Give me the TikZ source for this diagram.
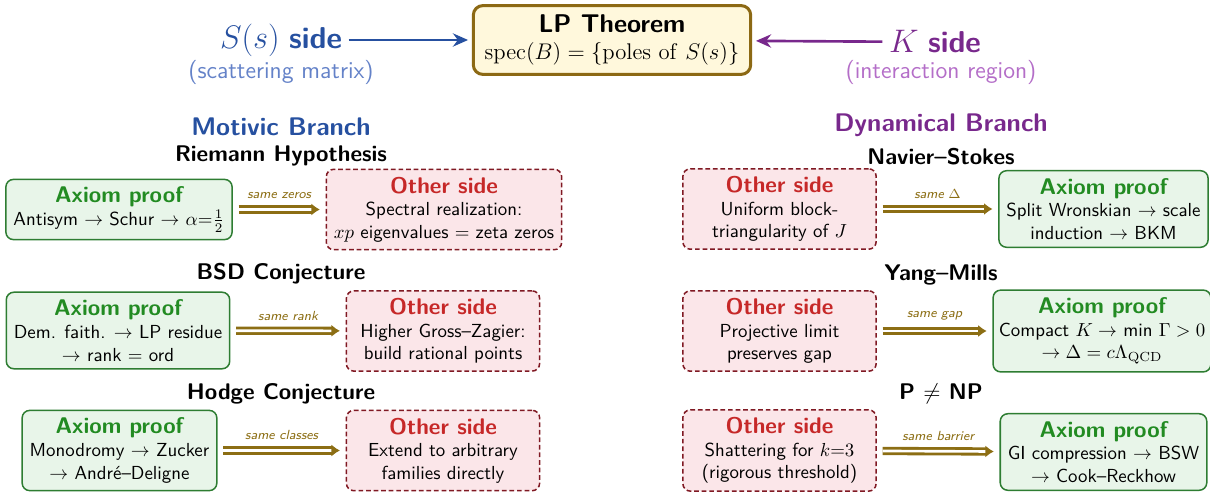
\documentclass[tikz,border=0pt]{standalone}
\usepackage{amsmath}
\usetikzlibrary{positioning,arrows.meta}
\renewcommand{\familydefault}{\sfdefault}

\definecolor{axiomgreen}{RGB}{34,139,34}
\definecolor{axiomline}{RGB}{46,125,50}
\definecolor{axiomfill}{RGB}{232,245,233}
\definecolor{otherred}{RGB}{198,40,40}
\definecolor{otherline}{RGB}{128,25,35}
\definecolor{otherfill}{RGB}{251,230,233}
\definecolor{lpline}{RGB}{140,105,20}
\definecolor{lpfill}{RGB}{255,248,220}
\definecolor{goldarrow}{RGB}{140,110,20}
\definecolor{motivicblue}{RGB}{38,80,160}
\definecolor{motiviclight}{RGB}{100,130,200}
\definecolor{dynpurple}{RGB}{120,40,140}
\definecolor{dynlight}{RGB}{180,110,200}

\newcommand{\axiomhead}{{\large\bfseries\color{axiomgreen}Axiom proof}}
\newcommand{\otherhead}{{\large\bfseries\color{otherred}Other side}}

\begin{document}
\begin{tikzpicture}[x=0.53pt,y=-0.53pt,
    axiombox/.style={draw=axiomline,fill=axiomfill,thick,rounded corners=4pt,align=center,minimum width=3.6cm,inner sep=4pt},
    otherbox/.style={draw=otherline,fill=otherfill,thick,dash pattern=on 2.5pt off 1.5pt,rounded corners=4pt,align=center,minimum width=3.6cm,inner sep=4pt},
    sameas/.style={draw=goldarrow,double=white,double distance=1.4pt,line width=1.5pt,-{Latex[length=4.5pt,width=6.5pt]},shorten <=3pt,shorten >=3pt},
    samelabel/.style={above=1.5pt,font=\scriptsize\itshape,text=goldarrow},
    problem/.style={font=\large\bfseries},
    branch/.style={font=\fontsize{13.5}{16}\selectfont\bfseries}]
    \useasboundingbox (0,0) rectangle (1210,494);

    % LP theorem and its two sides
    \node[draw=lpline,fill=lpfill,ultra thick,rounded corners=5pt,align=center,inner xsep=6pt,inner ysep=5pt] (lp) at (612,40)
        {{\fontsize{13.6}{16}\selectfont\bfseries LP Theorem}\\[2pt] \large $\operatorname{spec}(B)=\{\mathrm{poles\ of}\ S(s)\}$};
    \node[font=\fontsize{16}{19}\selectfont,text=motivicblue] (sside) at (281,40) {$S(s)$ \textbf{side}};
    \node[font=\fontsize{12.8}{15}\selectfont,text=motiviclight] (ssub) at (281,72) {(scattering matrix)};
    \node[font=\fontsize{16}{19}\selectfont,text=dynpurple] (kside) at (935,42) {$K$\ \textbf{side}};
    \node[font=\fontsize{12.8}{15}\selectfont,text=dynlight] (ksub) at (941,72) {(interaction region)};
    \draw[-{Stealth[length=8pt,width=7pt]},line width=1.4pt,motivicblue,shorten >=2pt] (sside) -- (lp);
    \draw[-{Stealth[length=8pt,width=7pt]},line width=1.4pt,dynpurple,shorten >=2pt] (kside) -- (lp);

    % Motivic branch
    \node[branch,text=motivicblue] (motivic) at (281,127) {Motivic Branch};
    \node[problem] (rh) at (281,156) {Riemann Hypothesis};
    \node[axiombox] (rhaxiom) at (119,209.5) {\axiomhead\\ Antisym $\to$ Schur $\to$ $\alpha{=}\frac{1}{2}$};
    \node[otherbox] (rhother) at (444,209.5) {\otherhead\\ Spectral realization:\\ $xp$ eigenvalues $=$ zeta zeros};
    \draw[sameas] (rhaxiom) -- node[samelabel] {same zeros} (rhother);

    \node[problem] (bsd) at (281,274) {BSD Conjecture};
    \node[axiombox] (bsdaxiom) at (118,330.5) {\axiomhead\\ Dem. faith. $\to$ LP residue\\ $\to$ rank $=$ ord};
    \node[otherbox] (bsdother) at (443,331) {\otherhead\\ Higher Gross--Zagier:\\ build rational points};
    \draw[sameas] (bsdaxiom) -- node[samelabel] {same rank} (bsdother);

    \node[problem] (hodge) at (281,394) {Hodge Conjecture};
    \node[axiombox] (hodgeaxiom) at (119.5,450.5) {\axiomhead\\ Monodromy $\to$ Zucker\\ $\to$ André--Deligne};
    \node[otherbox] (hodgeother) at (443,450.5) {\otherhead\\ Extend to arbitrary\\ families directly};
    \draw[sameas] (hodgeaxiom) -- node[samelabel] {same classes} (hodgeother);

    % Dynamical branch
    \node[branch,text=dynpurple] (dynamical) at (941,125) {Dynamical Branch};
    \node[problem] (ns) at (941,157) {Navier--Stokes};
    \node[otherbox] (nsother) at (779.5,209) {\otherhead\\ Uniform block-\\ triangularity of $J$};
    \node[axiombox] (nsaxiom) at (1103.5,209) {\axiomhead\\ Split Wronskian $\to$ scale\\ induction $\to$ BKM};
    \draw[sameas] (nsother) -- node[samelabel] {same $\Delta$} (nsaxiom);

    \node[problem] (ym) at (941,275) {Yang--Mills};
    \node[otherbox] (ymother) at (779.5,331) {\otherhead\\ Projective limit\\ preserves gap};
    \node[axiombox,inner xsep=3pt] (ymaxiom) at (1102,331) {\axiomhead\\ Compact $K \to$ min $\Gamma > 0$\\ $\to \Delta = c\Lambda_{\mathrm{QCD}}$};
    \draw[sameas] (ymother) -- node[samelabel] {same gap} (ymaxiom);

    \node[problem] (pnp) at (941,394) {P $\neq$ NP};
    \node[otherbox] (pnpother) at (779.5,450.5) {\otherhead\\ Shattering for $k{=}3$\\ (rigorous threshold)};
    \node[axiombox] (pnpaxiom) at (1103.5,452) {\axiomhead\\ GI compression $\to$ BSW\\ $\to$ Cook--Reckhow};
    \draw[sameas] (pnpother) -- node[samelabel] {same barrier} (pnpaxiom);
\end{tikzpicture}
\end{document}
